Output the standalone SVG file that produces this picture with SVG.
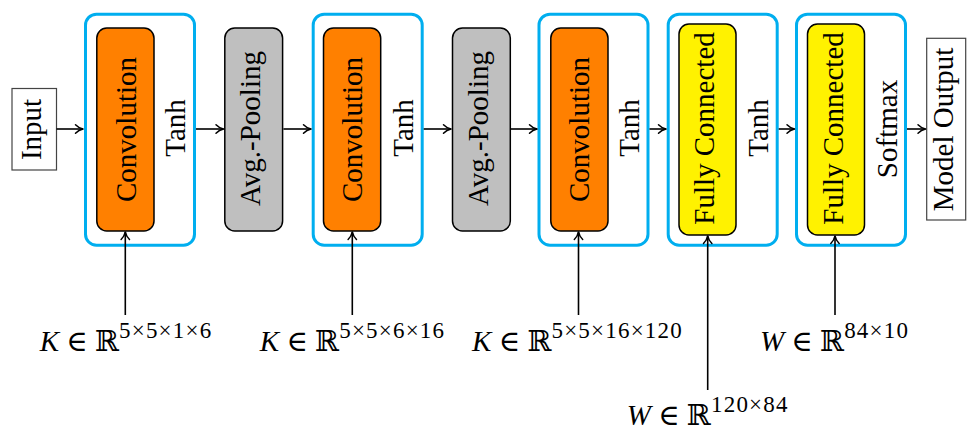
<svg xmlns="http://www.w3.org/2000/svg" width="967" height="432" viewBox="0 0 967 432">
  <defs>
    <marker id="tip" markerUnits="userSpaceOnUse" markerWidth="14" markerHeight="14" viewBox="-10 -7 14 14" refX="0" refY="0" orient="auto">
      <path d="M-7.5,-4.2 C-5,-1.6 -2,-0.4 0,0 C-2,0.4 -5,1.6 -7.5,4.2" fill="none" stroke="#000" stroke-width="1.5" stroke-linecap="round" stroke-linejoin="round"/>
    </marker>
  </defs>
  <style>
    text { font-family: "Liberation Serif", "DejaVu Serif", serif; fill: #000; }
    .lbl { font-size: 29px; text-anchor: middle; }
    .group { fill: #fff; stroke: #00AEEF; stroke-width: 3; }
    .conv { fill: #FF8000; stroke: #000; stroke-width: 1.5; }
    .pool { fill: #BFBFBF; stroke: #000; stroke-width: 1.5; }
    .fc { fill: #FFF200; stroke: #000; stroke-width: 1.5; }
    .io { fill: #fff; stroke: #444; stroke-width: 1.2; }
    .edge { stroke: #000; stroke-width: 1.6; fill: none; marker-end: url(#tip); }
    .math { font-size: 29px; text-anchor: middle; }
    .sup { font-size: 23px; letter-spacing: 1.2px; }
  </style>

  <!-- input -->
  <g id="input">
    <rect class="io" x="12" y="88.5" width="44.5" height="81.5"/>
    <text class="lbl" transform="translate(41,129.5) rotate(-90)">Input</text>
  </g>

  <!-- layer 1: convolution + tanh -->
  <g id="conv1">
    <rect class="group" x="85.5" y="14.2" width="109" height="231" rx="11"/>
    <rect class="conv" x="96.8" y="28" width="57.2" height="203" rx="10"/>
    <text class="lbl" transform="translate(135.5,129.5) rotate(-90)">Convolution</text>
    <text class="lbl" transform="translate(185,128) rotate(-90)">Tanh</text>
  </g>

  <g id="pool1">
    <rect class="pool" x="224.8" y="28" width="57.8" height="203" rx="10"/>
    <text class="lbl" transform="translate(260.3,128.5) rotate(-90)">Avg.-Pooling</text>
  </g>

  <!-- layer 2 -->
  <g id="conv2">
    <rect class="group" x="313.2" y="14.2" width="109" height="231" rx="11"/>
    <rect class="conv" x="323.5" y="28" width="57.2" height="203" rx="10"/>
    <text class="lbl" transform="translate(362.4,129.5) rotate(-90)">Convolution</text>
    <text class="lbl" transform="translate(413,128) rotate(-90)">Tanh</text>
  </g>

  <g id="pool2">
    <rect class="pool" x="452.5" y="28" width="57.8" height="203" rx="10"/>
    <text class="lbl" transform="translate(488,128.5) rotate(-90)">Avg.-Pooling</text>
  </g>

  <!-- layer 3 -->
  <g id="conv3">
    <rect class="group" x="539" y="14.2" width="109" height="231" rx="11"/>
    <rect class="conv" x="550.8" y="28" width="57.2" height="203" rx="10"/>
    <text class="lbl" transform="translate(589.4,129.5) rotate(-90)">Convolution</text>
    <text class="lbl" transform="translate(639,128) rotate(-90)">Tanh</text>
  </g>

  <!-- fully connected layers -->
  <g id="fc1">
    <rect class="group" x="668.2" y="14.2" width="109" height="231" rx="11"/>
    <rect class="fc" x="679" y="24" width="57" height="211" rx="10"/>
    <text class="lbl" transform="translate(714.3,128.5) rotate(-90)">Fully Connected</text>
    <text class="lbl" transform="translate(768,128) rotate(-90)">Tanh</text>
  </g>

  <g id="fc2">
    <rect class="group" x="796.5" y="14.2" width="109" height="231" rx="11"/>
    <rect class="fc" x="807.5" y="24" width="57" height="211" rx="10"/>
    <text class="lbl" transform="translate(842.6,128.5) rotate(-90)">Fully Connected</text>
    <text class="lbl" transform="translate(897,129) rotate(-90)">Softmax</text>
  </g>

  <g id="output">
    <rect class="io" x="926.7" y="38.3" width="39" height="181.7"/>
    <text class="lbl" transform="translate(953.3,129.5) rotate(-90)">Model Output</text>
  </g>

  <!-- parameter shapes -->
  <g id="param1">
    <text class="math" x="126" y="350.5"><tspan font-style="italic">K</tspan> ∈ ℝ<tspan class="sup" dy="-12.4">5×5×1×6</tspan></text>
  </g>
  <g id="param2">
    <text class="math" x="352.5" y="350.5"><tspan font-style="italic">K</tspan> ∈ ℝ<tspan class="sup" dy="-12.4">5×5×6×16</tspan></text>
  </g>
  <g id="param3">
    <text class="math" x="577.5" y="350.5"><tspan font-style="italic">K</tspan> ∈ ℝ<tspan class="sup" dy="-12.4">5×5×16×120</tspan></text>
  </g>
  <g id="param4">
    <text class="math" x="707.7" y="424.5"><tspan font-style="italic">W</tspan> ∈ ℝ<tspan class="sup" dy="-12.4">120×84</tspan></text>
  </g>
  <g id="param5">
    <text class="math" x="834.5" y="350.5"><tspan font-style="italic">W</tspan> ∈ ℝ<tspan class="sup" dy="-12.4">84×10</tspan></text>
  </g>

  <!-- connectors -->
  <g id="edges">
    <line class="edge" x1="56.5" y1="129" x2="83" y2="129"/>
    <line class="edge" x1="196" y1="129" x2="223.5" y2="129"/>
    <line class="edge" x1="283.4" y1="129" x2="311" y2="129"/>
    <line class="edge" x1="423.7" y1="129" x2="451" y2="129"/>
    <line class="edge" x1="511" y1="129" x2="537" y2="129"/>
    <line class="edge" x1="649.5" y1="129" x2="666" y2="129"/>
    <line class="edge" x1="778.7" y1="129" x2="794.5" y2="129"/>
    <line class="edge" x1="907" y1="129" x2="925.5" y2="129"/>

    <line class="edge" x1="125.3" y1="315" x2="125.3" y2="232"/>
    <line class="edge" x1="352.3" y1="315" x2="352.3" y2="232"/>
    <line class="edge" x1="578.5" y1="315" x2="578.5" y2="232"/>
    <line class="edge" x1="707.7" y1="390" x2="707.7" y2="236"/>
    <line class="edge" x1="835" y1="315" x2="835" y2="236"/>
  </g>
</svg>
